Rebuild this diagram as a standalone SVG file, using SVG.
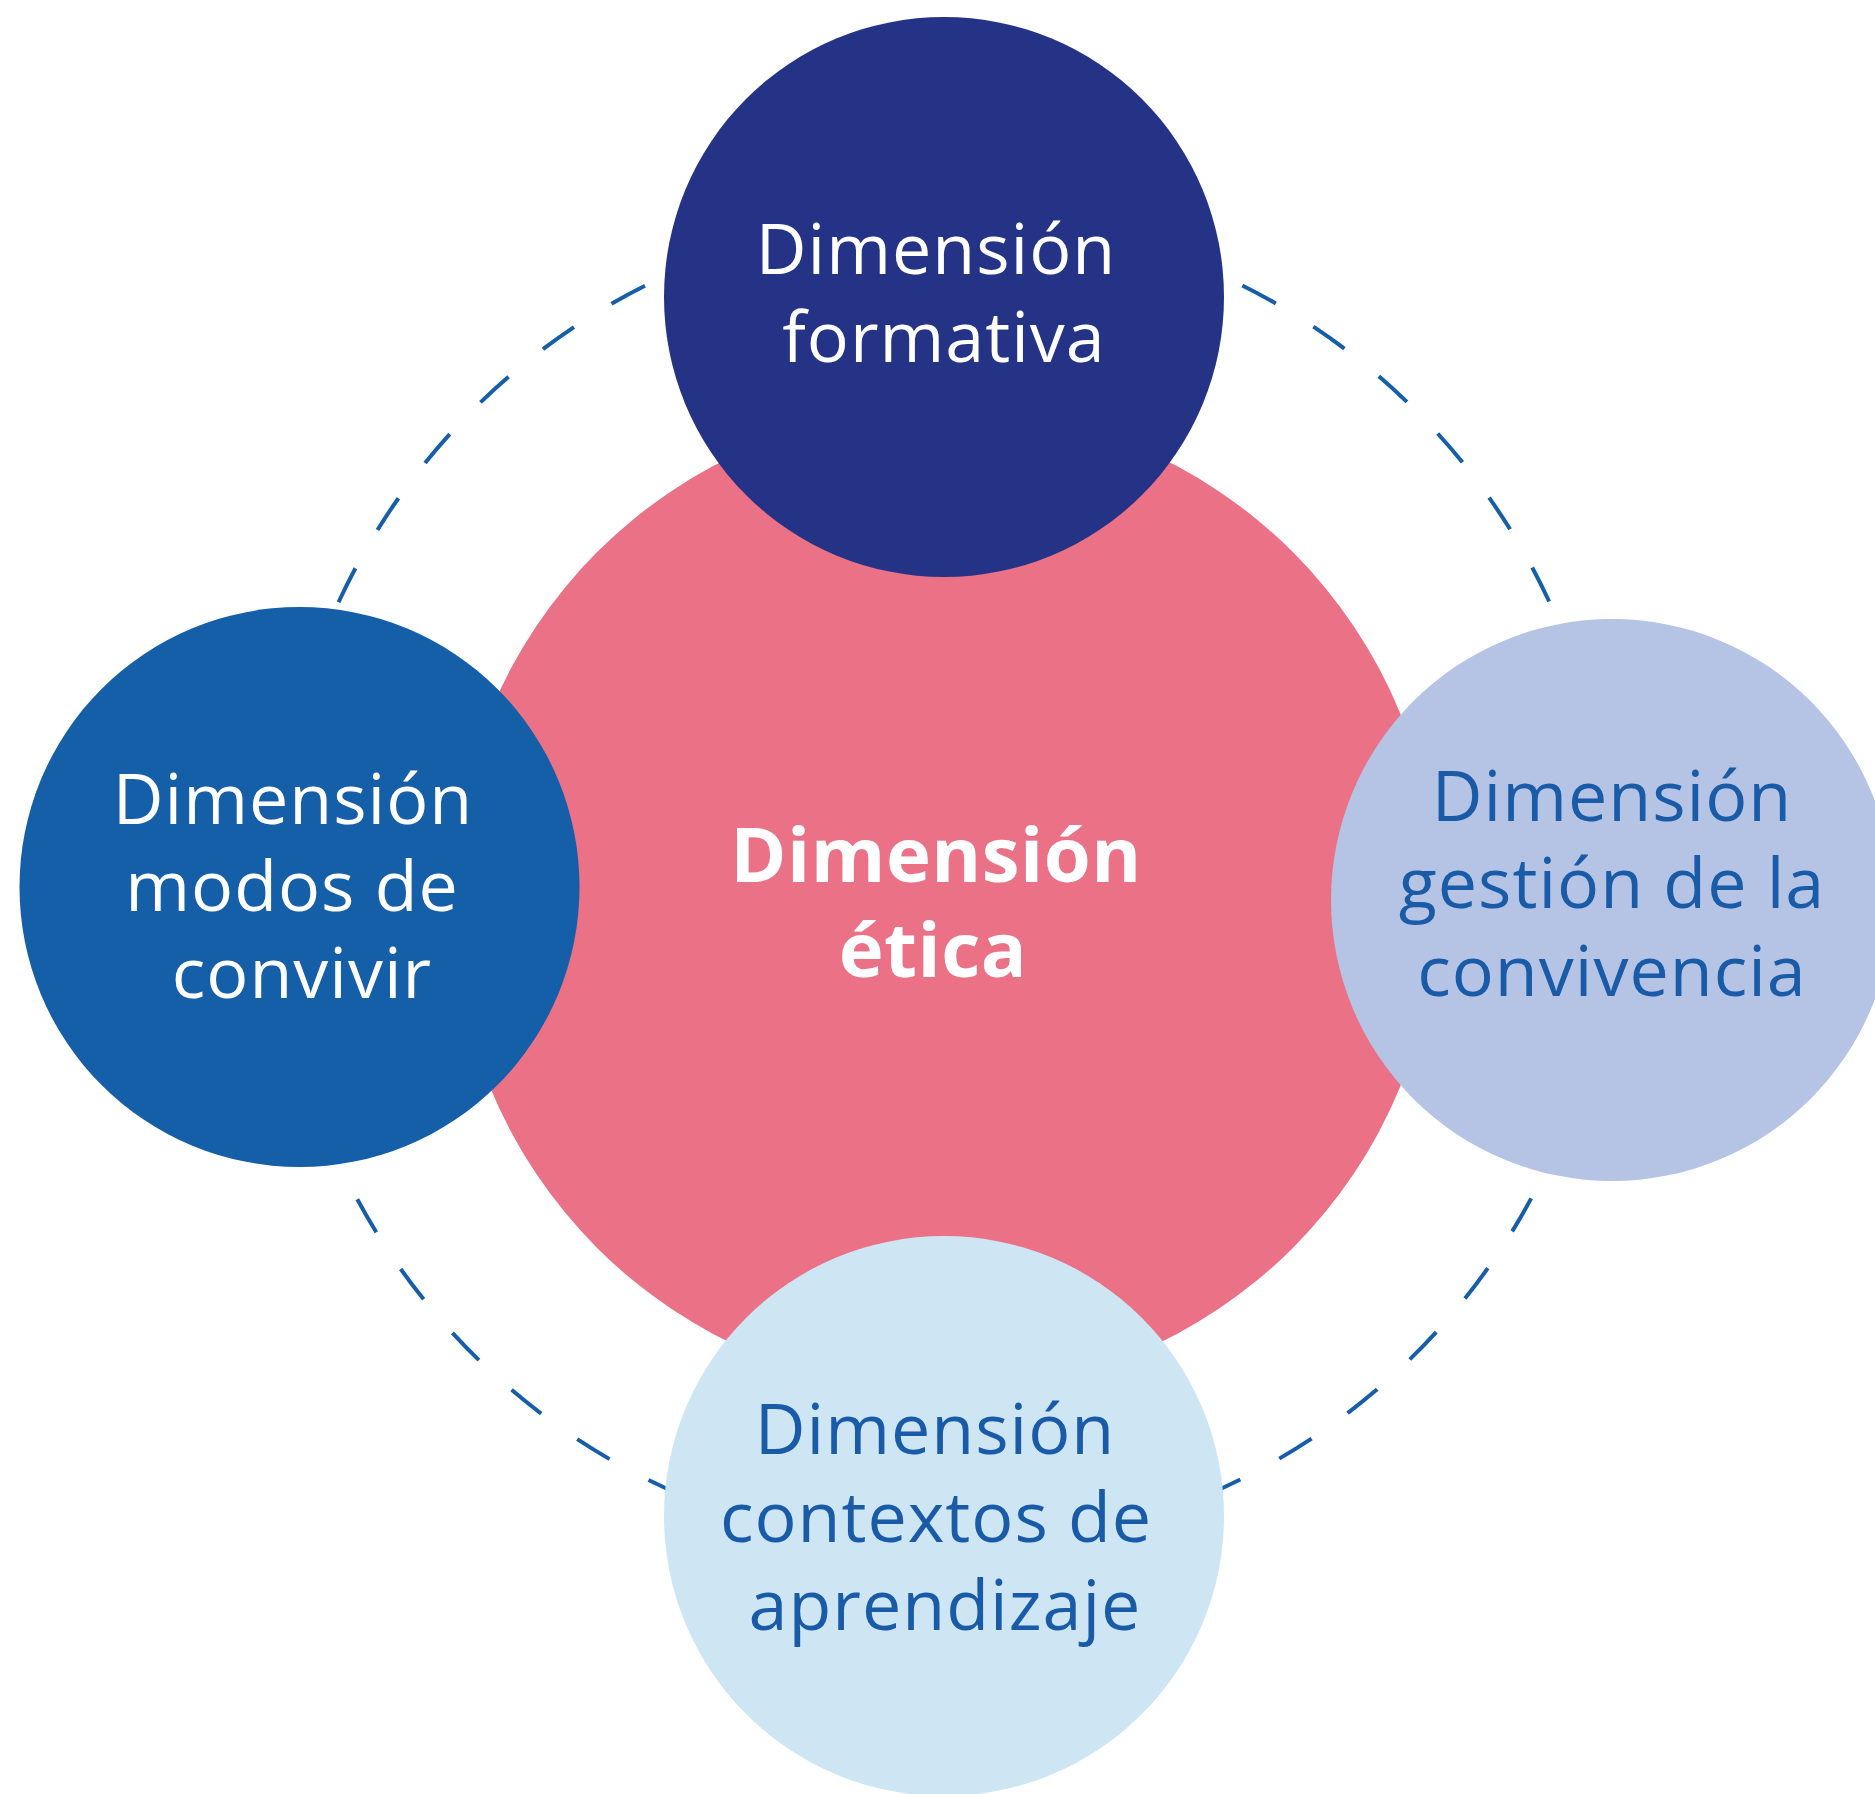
<svg xmlns="http://www.w3.org/2000/svg" width="1875" height="1794" viewBox="0 0 1875 1794">
  <style>
    .lbl { font-family: "Open Sans", "Noto Sans", "Liberation Sans", sans-serif; font-size: 70px; text-anchor: middle; letter-spacing: 1px; }
    .light { fill: #ffffff; }
    .dark { fill: #1A5BA8; }
    .bold { font-family: "Open Sans", "Noto Sans", "Liberation Sans", sans-serif; font-size: 76px; font-weight: 700; text-anchor: middle; fill: #ffffff; letter-spacing: 0.5px; }
    .ring { fill: none; stroke: #175EA9; stroke-width: 4; stroke-dasharray: 38 44.17; stroke-dashoffset: -1; }
  </style>
  <rect width="1875" height="1794" fill="#ffffff"/>
  <g id="connectors">
    <circle class="ring" cx="944" cy="882" r="667"/>
  </g>
  <g id="node-etica">
    <circle cx="945" cy="900" r="492" fill="#EB7186"/>
    <text class="bold" x="936" y="882">Dimensión</text>
    <text class="bold" x="933" y="977">ética</text>
  </g>
  <g id="node-formativa">
    <circle cx="944" cy="297" r="280" fill="#253386"/>
    <text class="lbl light" x="936" y="274">Dimensión</text>
    <text class="lbl light" x="944" y="362">formativa</text>
  </g>
  <g id="node-modos">
    <circle cx="299.5" cy="887" r="280" fill="#155EA8"/>
    <text class="lbl light" x="293" y="824">Dimensión</text>
    <text class="lbl light" x="292" y="911">modos de</text>
    <text class="lbl light" x="302" y="998">convivir</text>
  </g>
  <g id="node-gestion">
    <circle cx="1612" cy="900" r="281" fill="#B5C3E5"/>
    <text class="lbl dark" x="1612" y="821">Dimensión</text>
    <text class="lbl dark" x="1612" y="908">gestión de la</text>
    <text class="lbl dark" x="1612" y="996">convivencia</text>
  </g>
  <g id="node-contextos">
    <circle cx="944" cy="1516" r="280" fill="#CEE5F4"/>
    <text class="lbl dark" x="935" y="1454">Dimensión</text>
    <text class="lbl dark" x="936" y="1542">contextos de</text>
    <text class="lbl dark" x="945" y="1630">aprendizaje</text>
  </g>
</svg>
